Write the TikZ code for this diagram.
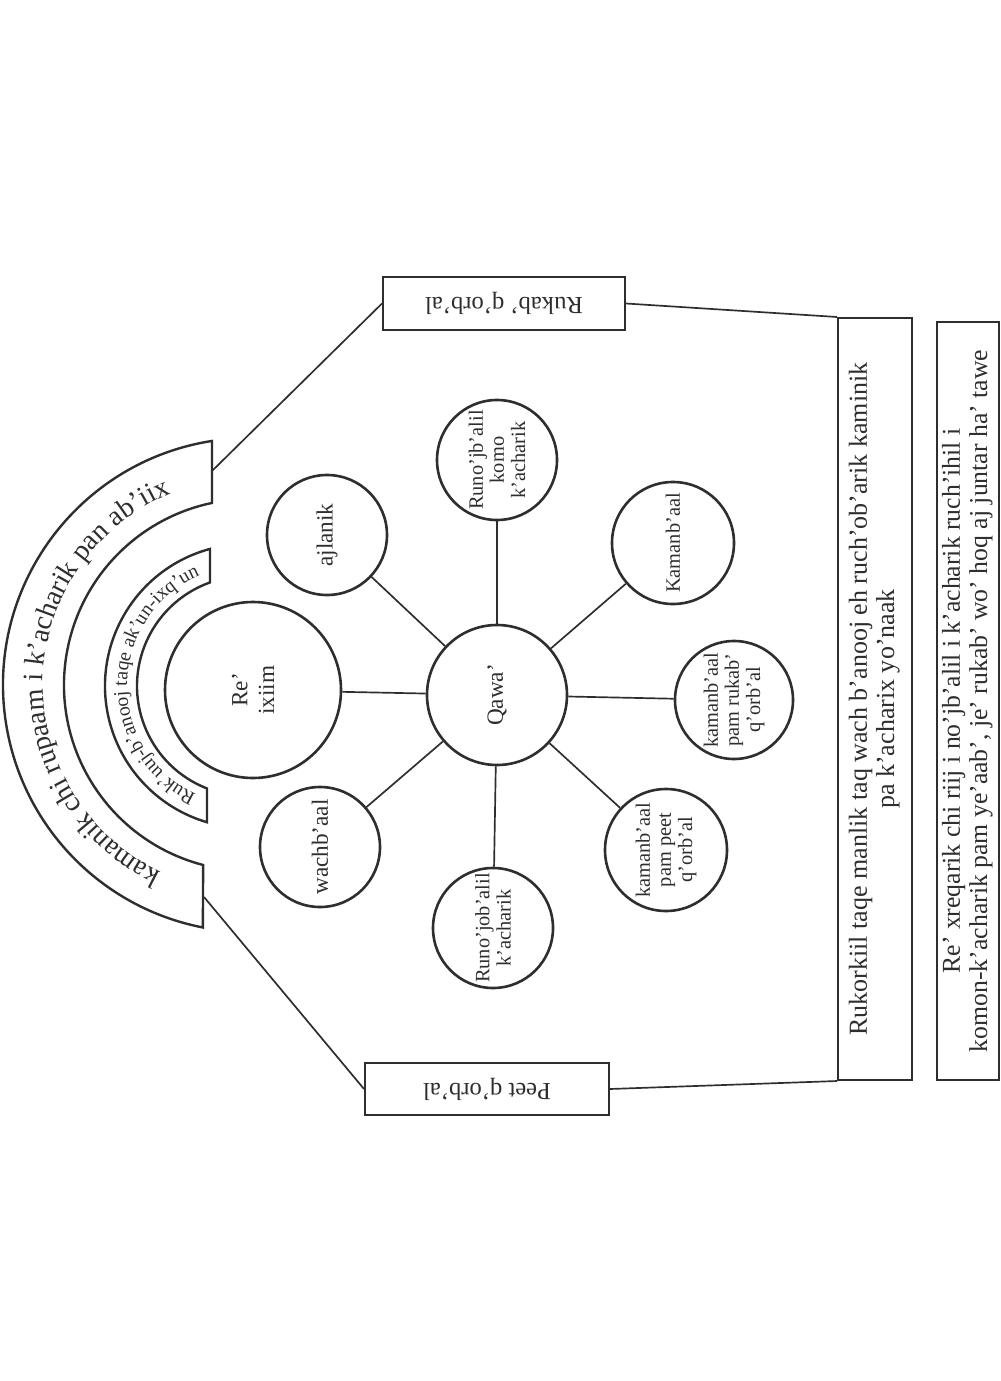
\documentclass[tikz,border=0pt]{standalone}
\usepackage{fontspec}
\setmainfont{Liberation Serif}
\usepackage{graphicx}
\usetikzlibrary{decorations.text}
\definecolor{ink}{HTML}{2E2E2E}

\begin{document}
\begin{tikzpicture}[x=0.25mm,y=0.25mm,
  bubble/.style={circle,draw=ink,line width=0.65mm,inner sep=0pt,text=ink,align=center,rotate=90,font=\fontsize{14.5}{15}\selectfont},
  bigbubble/.style={bubble,font=\fontsize{16.5}{19}\selectfont},
  spoke/.style={draw=ink,line width=0.42mm},
  panel/.style={draw=ink,line width=0.5mm,inner sep=0pt,text=ink},
  band/.style={draw=ink,line width=0.6mm,fill=white}]
\fill[white] (0,0) rectangle (1000,-1381);
\useasboundingbox (0,0) rectangle (1000,-1381);

% centre and the eight bubbles round it
\node[bigbubble,minimum size=35mm] (qawa) at (497,-695) {Qawa’};
\node[bigbubble,minimum size=44mm] (ixiim) at (253,-690) {Re’\\ixiim};
\node[bigbubble,minimum size=30mm] (ajlanik) at (327,-535) {ajlanik};
\node[bigbubble,minimum size=30mm] (wachbaal) at (320,-847) {wachb’aal};
\node[bubble,minimum size=30mm] (komo) at (497,-460) {Runo’jb’alil\\komo\\k’acharik};
\node[bubble,minimum size=30mm] (runo) at (493,-928) {Runo’job’alil\\k’acharik};
\node[bubble,minimum size=30.5mm] (kamanbaal) at (673,-543) {Kamanb’aal};
\node[bubble,minimum size=29.5mm] (rukabqorbal) at (734,-700) {kamanb’aal\\pam rukab’\\q’orb’al};
\node[bubble,minimum size=30.5mm] (peetqorbal) at (666,-850) {kamanb’aal\\pam peet\\q’orb’al};

\foreach \n in {ixiim,ajlanik,wachbaal,komo,runo,kamanbaal,rukabqorbal,peetqorbal}
  \draw[spoke] (qawa) -- (\n);

% outer band %
\begin{scope}[shift={(250,-685)}]
\draw[band] (98.85:247) arc[start angle=98.85,end angle=259,radius=247]
  -- (255.4:186) arc[start angle=255.4,end angle=101.8,radius=186] -- cycle;
\path[decorate,decoration={text along path,text align=center,text color=ink,
  text={|\fontsize{20}{20}\selectfont|kamanik chi rupaam i k’acharik pan ab’iix}}]
  (257:207) arc[start angle=257,end angle=100,radius=207];
\end{scope}

% inner band %
\begin{scope}[shift={(247,-686)}]
\draw[band] (105.1:142) arc[start angle=105.1,end angle=253.64,radius=142]
  -- (248.68:110) arc[start angle=248.68,end angle=109.66,radius=110] -- cycle;
\path[decorate,decoration={text along path,text align=center,text color=ink,
  text={|\fontsize{14}{14}\selectfont|Ruk’uuj-b’anooj taqe ak’un-ixq’un}}]
  (251:120) arc[start angle=251,end angle=107,radius=120];
\end{scope}

\coordinate (bandtop) at (212,-471);
\coordinate (bandfoot) at (204,-897);

% side boxes
\node[panel,minimum width=60.5mm,minimum height=13.25mm,font=\fontsize{17.5}{20}\selectfont]
  (rukab) at (504,-303.5) {\rotatebox{180}{Rukab’ q’orb’al}};
\node[panel,minimum width=61mm,minimum height=13mm,font=\fontsize{17.5}{20}\selectfont]
  (peet) at (487,-1089) {\rotatebox{180}{Peet q’orb’al}};

% long boxes
\node[panel,minimum width=18.5mm,minimum height=190.5mm,font=\fontsize{18.5}{19.5}\selectfont]
  (organs) at (875,-699) {\rotatebox{90}{\begin{tabular}{@{}c@{}}Rukorkiil taqe manlik taq wach b’anooj eh ruch’ob’arik kaminik\\pa k’acharix yo’naak\end{tabular}}};
\node[panel,minimum width=15.5mm,minimum height=189.5mm,font=\fontsize{18.3}{19.5}\selectfont]
  (note) at (968,-701) {\rotatebox{90}{\begin{tabular}{@{}c@{}}Re’ xreqarik chi riij i no’jb’alil i k’acharik ruch’ihil i\\komon-k’acharik pam ye’aab’, je’ rukab’ wo’ hoq aj juntar ha’ tawe\end{tabular}}};

\draw[spoke] (bandtop) -- (rukab.west);
\draw[spoke] (bandfoot) -- (peet.west);
\draw[spoke] (rukab.east) -- (organs.north west);
\draw[spoke] (peet.east) -- (organs.south west);
\end{tikzpicture}
\end{document}
